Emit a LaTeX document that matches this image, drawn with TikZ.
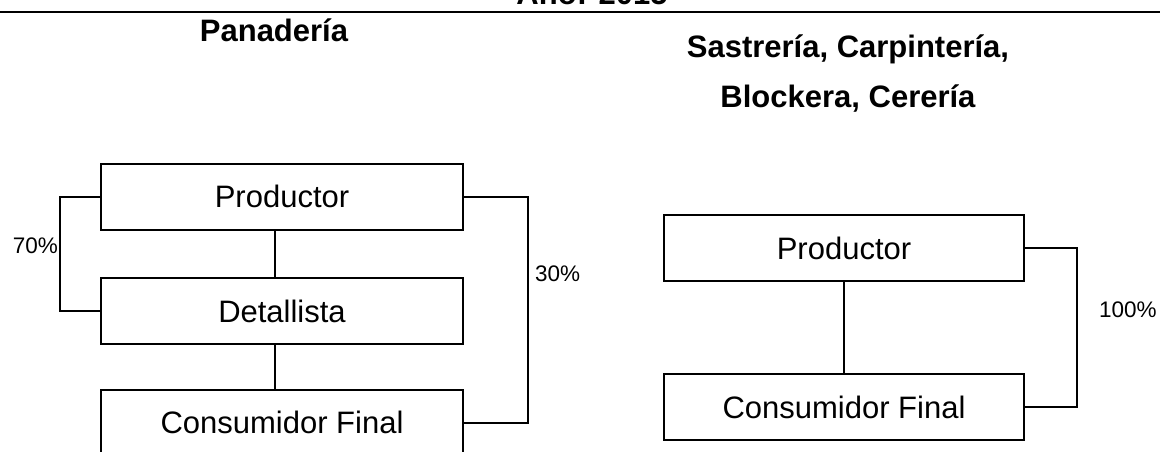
\documentclass[tikz,border=0pt]{standalone}
\usepackage{fontspec}
\setmainfont{Liberation Sans}
\usetikzlibrary{positioning}

\begin{document}
\begin{tikzpicture}[
  x=1pt, y=-1pt,
  node distance=46pt,
  box/.style={draw, line width=2pt, minimum width=362pt, minimum height=66pt, inner sep=0pt, font=\fontsize{31}{36}\selectfont},
  titulo/.style={font=\fontsize{31}{36}\selectfont\bfseries, inner sep=0pt, anchor=base},
  pct/.style={font=\fontsize{22.5}{27}\selectfont, inner sep=0pt},
  lin/.style={line width=2pt}
]
\clip (0,0) rectangle (1160,451);

% Encabezado
\node[titulo] (anio) at (592,4) {Año: 2015};
\draw[line width=1.5pt] (0,12) -- (1160,12);

% Títulos
\node[titulo] (tPan) at (274,41) {Panadería};
\node[titulo] (tSas) at (848,57) {Sastrería, Carpintería,};
\node[titulo] (tBlo) at (848,107) {Blockera, Cerería};

% Canal izquierdo
\node[box] (prodL) at (282,196.5) {Productor};
\node[box, below=46.5pt of prodL] (detL) {Detallista};
\node[box, below=43.5pt of detL] (consL) {Consumidor Final};

\draw[lin] ([xshift=-7pt]prodL.south) -- ([xshift=-7pt]detL.north);
\draw[lin] ([xshift=-7pt]detL.south) -- ([xshift=-7pt]consL.north);

% Corchetes izquierdo
\draw[lin] (prodL.west) -- ++(-40,0) |- (detL.west);
\node[pct, anchor=east] (p70) at (58,246) {70\%};
\draw[lin] (prodL.east) -- ++(64,0) |- (consL.east);
\node[pct, anchor=west] (p30) at (535,274) {30\%};

% Canal derecho
\node[box, minimum width=360pt] (prodR) at (844,248) {Productor};
\node[box, minimum width=360pt, below=91pt of prodR] (consR) {Consumidor Final};

\draw[lin] (prodR) -- (consR);
\draw[lin] (prodR.east) -- ++(52,0) |- (consR.east);
\node[pct, anchor=west] (p100) at (1099,310) {100\%};

\end{tikzpicture}
\end{document}
